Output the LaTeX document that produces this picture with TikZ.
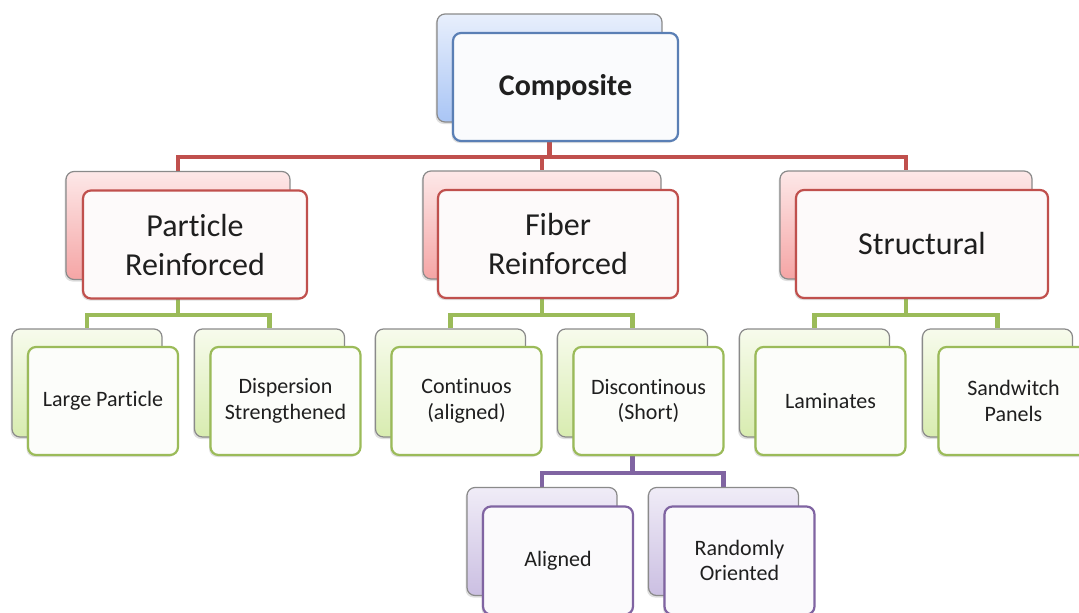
\documentclass[tikz,border=0pt]{standalone}
\usepackage{fontspec}
\setmainfont{Carlito}[Ligatures=NoCommon]
\usetikzlibrary{positioning,shadows,backgrounds}

\definecolor{blueline}{HTML}{5A7FB5}
\definecolor{bluetop}{HTML}{E8EFFC}
\definecolor{bluebot}{HTML}{A9C5F5}
\definecolor{redline}{HTML}{C0504D}
\definecolor{redtop}{HTML}{FDE8E8}
\definecolor{redbot}{HTML}{F5A5A5}
\definecolor{greenline}{HTML}{9BBB59}
\definecolor{greentop}{HTML}{F7FBEC}
\definecolor{greenbot}{HTML}{D8ECB0}
\definecolor{purpleline}{HTML}{8064A2}
\definecolor{purpletop}{HTML}{F0ECF7}
\definecolor{purplebot}{HTML}{CBBFE2}
\definecolor{backgray}{HTML}{8A8A8A}

\tikzset{
  backbox/.style={draw=backgray, line width=1.2pt, rounded corners=8pt,
    top color=#1top, bottom color=#1bot, minimum height=108pt, inner sep=0pt,
    drop shadow={shadow xshift=-1.5pt, shadow yshift=-2pt, opacity=.25}},
  frontbox/.style={draw=#1line, line width=2.2pt, rounded corners=8pt,
    fill=#1line!3, minimum height=108pt, inner sep=0pt, align=center, text=black!88,
    drop shadow={shadow xshift=-1.5pt, shadow yshift=-2pt, opacity=.25}},
  link/.style={draw=#1line, line width=4.5pt},
  big/.style={font=\fontsize{32}{39}\selectfont},
  small/.style={font=\fontsize{22}{25.5}\selectfont}
}

\begin{document}
\begin{tikzpicture}[x=1pt, y=-1pt]
\useasboundingbox (0,0) rectangle (1079,613);
\clip (0,0) rectangle (1079,613);

% top
\node[backbox=blue, minimum width=225pt] (compb) at (549.5,68) {};
\node[frontbox=blue, minimum width=225pt, font=\bfseries\fontsize{30}{39}\selectfont] (comp) at ([shift={(16,19)}]compb.center) {Composite};

% second row
\node[backbox=red, minimum width=224pt] (partb) at (178,225.5) {};
\node[frontbox=red, big, minimum width=224pt] (part) at ([shift={(17,19)}]partb.center) {Particle\\Reinforced};
\node[backbox=red, minimum width=238pt] (fiberb) at (542,225) {};
\node[frontbox=red, big, minimum width=240pt] (fiber) at ([shift={(16,19)}]fiberb.center) {Fiber\\Reinforced};
\node[backbox=red, minimum width=252pt] (structb) at (906,225) {};
\node[frontbox=red, big, minimum width=252pt] (struct) at ([shift={(16,19)}]structb.center) {Structural};

% third row
\node[backbox=green, minimum width=150pt] (largeb) at (87,383) {};
\node[frontbox=green, small, minimum width=150pt] (large) at ([shift={(16,18)}]largeb.center) {Large Particle};
\node[backbox=green, minimum width=150pt] (dispb) at (269.5,383) {};
\node[frontbox=green, small, minimum width=150pt] (disp) at ([shift={(16,18)}]dispb.center) {Dispersion\\Strengthened};
\node[backbox=green, minimum width=150pt] (contb) at (450.5,383) {};
\node[frontbox=green, small, minimum width=150pt] (cont) at ([shift={(16,18)}]contb.center) {Continuos\\(aligned)};
\node[backbox=green, minimum width=150pt] (discb) at (632.5,383) {};
\node[frontbox=green, small, minimum width=150pt] (disc) at ([shift={(16,18)}]discb.center) {Discontinous\\(Short)};
\node[backbox=green, minimum width=150pt] (lamb) at (814.5,383) {};
\node[frontbox=green, small, minimum width=150pt] (lam) at ([shift={(16,18)}]lamb.center) {Laminates};
\node[backbox=green, minimum width=150pt] (sandb) at (997.5,383) {};
\node[frontbox=green, small, minimum width=150pt] (sand) at ([shift={(16,18)}]sandb.center) {Sandwitch\\Panels};

% fourth row
\node[backbox=purple, minimum width=150pt] (alignb) at (542,541.5) {};
\node[frontbox=purple, small, minimum width=150pt] (align) at ([shift={(16,19)}]alignb.center) {Aligned};
\node[backbox=purple, minimum width=150pt] (randb) at (723.5,541.5) {};
\node[frontbox=purple, small, minimum width=150pt] (rand) at ([shift={(16,19)}]randb.center) {Randomly\\Oriented};

% connectors
\begin{scope}[on background layer]
\coordinate (busred) at (549.5,157);
\draw[link=red] (compb.south) |- (busred) -| (partb.north);
\draw[link=red] (busred) -| (fiberb.north);
\draw[link=red] (busred) -| (structb.north);
\coordinate (busparta) at (178,315);
\draw[link=green] (partb.south) |- (busparta) -| (largeb.north);
\draw[link=green] (busparta) -| (dispb.north);
\coordinate (busfiber) at (542,315);
\draw[link=green] (fiberb.south) |- (busfiber) -| (contb.north);
\draw[link=green] (busfiber) -| (discb.north);
\coordinate (busstruct) at (906,315);
\draw[link=green] (structb.south) |- (busstruct) -| (lamb.north);
\draw[link=green] (busstruct) -| (sandb.north);
\coordinate (busdisc) at (632.5,473);
\draw[link=purple] (discb.south) |- (busdisc) -| (alignb.north);
\draw[link=purple] (busdisc) -| (randb.north);
\end{scope}
\end{tikzpicture}
\end{document}
